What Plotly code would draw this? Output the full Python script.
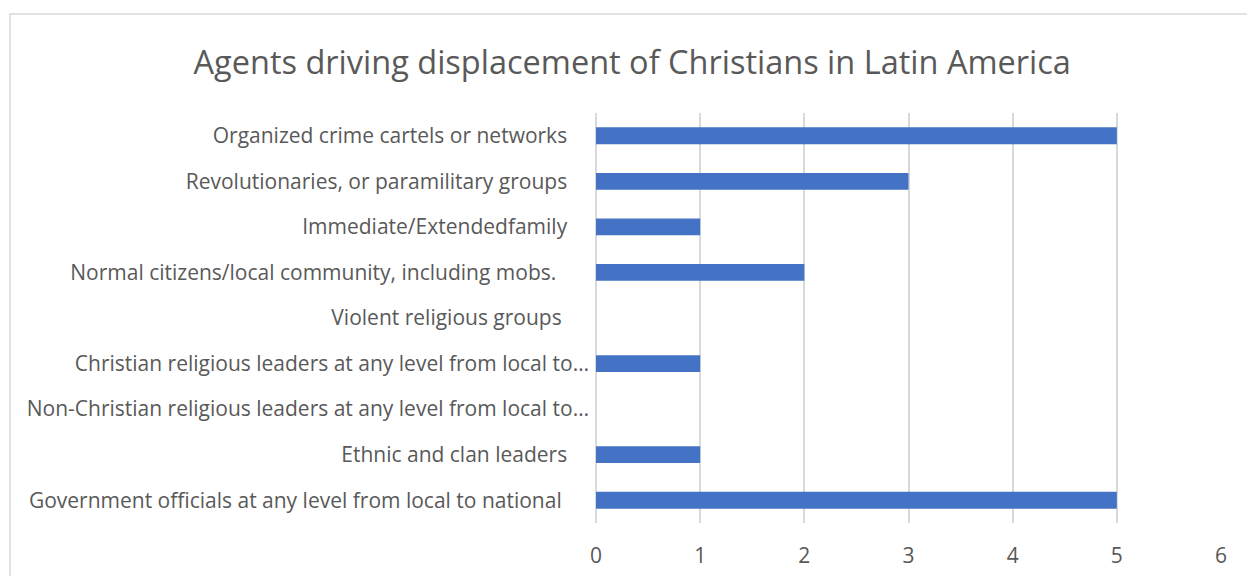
import plotly.graph_objects as go

# Agents and number of responses
agents = [
    "Organized crime cartels or networks",
    "Revolutionaries, or paramilitary groups",
    "Immediate/Extendedfamily",
    "Normal citizens/local community, including mobs.",
    "Violent religious groups",
    "Christian religious leaders at any level from local to…",
    "Non-Christian religious leaders at any level from local to…",
    "Ethnic and clan leaders",
    "Government officials at any level from local to national",
]
counts = [5, 3, 1, 2, 0, 1, 0, 1, 5]
x_ticks = [0, 1, 2, 3, 4, 5, 6]

# Shorter labels sit a little further from the axis than the truncated ones
pad = {
    "Christian religious leaders at any level from local to…": 0,
    "Non-Christian religious leaders at any level from local to…": 0,
    "Normal citizens/local community, including mobs.": 6,
    "Violent religious groups": 5,
    "Ethnic and clan leaders": 4,
    "Government officials at any level from local to national": 5,
}
tick_text = [a + "\u00a0" * pad.get(a, 4) for a in agents]

GREY_TEXT = "#595959"
GRID = "#d9d9d9"
FONT = "'Open Sans', sans-serif"

fig = go.Figure(
    go.Bar(
        x=counts,
        y=agents,
        orientation="h",
        marker=dict(color="#4472c4", line=dict(width=0)),
        hoverinfo="x+y",
    )
)

fig.update_layout(
    width=1247,
    height=576,
    margin=dict(l=596, r=26, t=113, b=53, autoexpand=False),
    paper_bgcolor="white",
    plot_bgcolor="white",
    bargap=0.63,
    showlegend=False,
    font=dict(family=FONT, color=GREY_TEXT, size=21),
    title=dict(
        text="Agents driving displacement of Christians in Latin America",
        x=0.507,
        xanchor="center",
        y=0.892,
        yanchor="middle",
        font=dict(family=FONT, size=32.5, color=GREY_TEXT),
    ),
    shapes=[
        dict(
            type="rect",
            xref="paper",
            yref="paper",
            x0=-0.9376,
            x1=1.2,
            y0=-0.4,
            y1=1.2415,
            line=dict(color=GRID, width=1.5),
            fillcolor="rgba(0,0,0,0)",
            layer="below",
        )
    ],
)

fig.update_xaxes(
    range=[0, 6],
    tickvals=x_ticks,
    showgrid=True,
    gridcolor=GRID,
    gridwidth=1.5,
    zeroline=True,
    zerolinecolor=GRID,
    zerolinewidth=1.5,
    showline=False,
    ticks="",
    ticklabelstandoff=18,
    automargin=False,
    tickfont=dict(size=21, color=GREY_TEXT),
)

fig.update_yaxes(
    autorange="reversed",
    tickvals=agents,
    ticktext=tick_text,
    showgrid=False,
    showline=False,
    ticks="",
    ticklabelstandoff=6,
    automargin=False,
    tickfont=dict(size=21, color=GREY_TEXT),
)

fig.write_html("out.html")
